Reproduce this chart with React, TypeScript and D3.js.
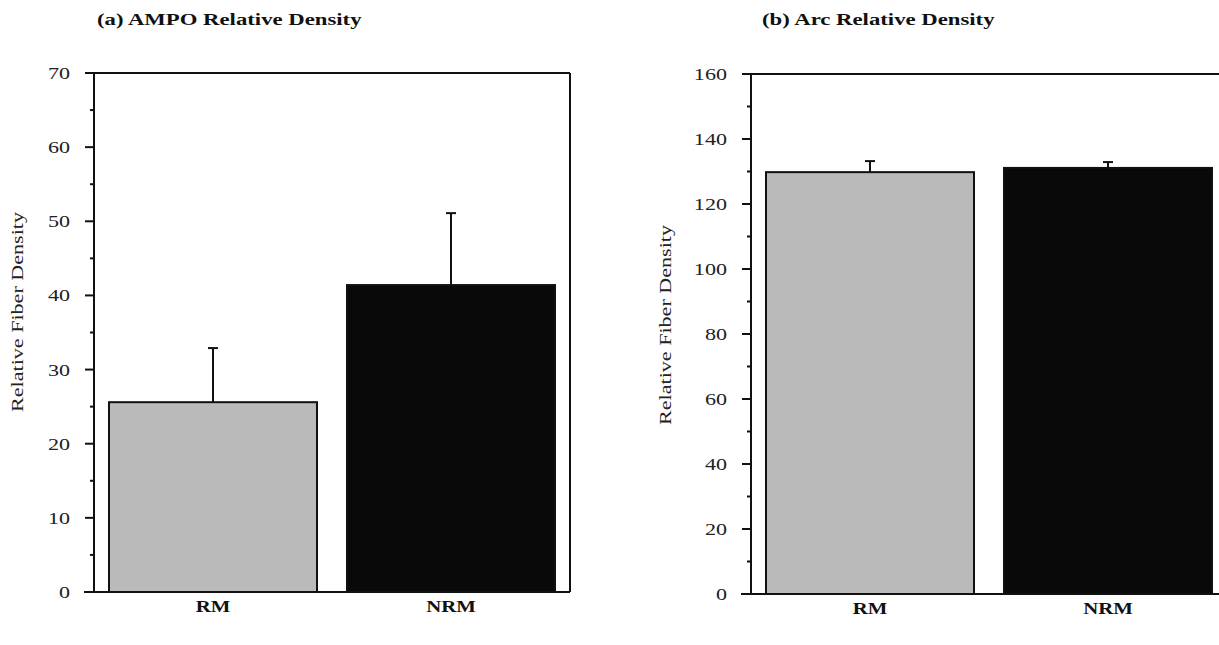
import React from "react";
import * as d3 from "d3";

// Groups and measurements for the two panels
const categories = ["RM", "NRM"];

const ampoMeans = [25.6, 41.4];
const ampoErrors = [7.3, 9.7];
const ampoTicks = [0, 10, 20, 30, 40, 50, 60, 70];

const arcMeans = [129.8, 131.1];
const arcErrors = [3.4, 1.8];
const arcTicks = [0, 20, 40, 60, 80, 100, 120, 140, 160];

const barFills = ["#bababa", "#090909"];

const W = 1219;
const H = 645;
const SERIF = "'Liberation Serif', 'Times New Roman', serif";
// the type is set slightly wide
const WIDE = 1.3;

type LabelProps = {
  x: number;
  y: number;
  rotate?: number;
  anchor?: "start" | "middle" | "end";
  size: number;
  bold?: boolean;
  dy?: string;
  children: React.ReactNode;
};

function Label({ x, y, rotate = 0, anchor = "start", size, bold, dy, children }: LabelProps) {
  return (
    <text
      transform={`translate(${x},${y}) rotate(${rotate}) scale(${WIDE},1)`}
      textAnchor={anchor}
      dy={dy}
      fontFamily={SERIF}
      fontWeight={bold ? "bold" : "normal"}
      fontSize={size}
      fill={bold ? "#111" : "#222"}
    >
      {children}
    </text>
  );
}

type PanelProps = {
  title: string;
  means: number[];
  errors: number[];
  ticks: number[];
  minorStep: number;
  x0: number;
  x1: number;
  yTop: number;
  yBottom: number;
  titleX: number;
  ylabelX: number;
  ylabelY: number;
};

function Panel(p: PanelProps) {
  const max = p.ticks[p.ticks.length - 1];
  const y = d3.scaleLinear().domain([0, max]).range([p.yBottom, p.yTop]);
  const x = d3
    .scaleBand<string>()
    .domain(categories)
    .range([p.x0, p.x1])
    .paddingInner(0.126)
    .paddingOuter(0.063);
  const minors = d3.range(0, max + 0.001, p.minorStep).filter((v) => !p.ticks.includes(v));
  const bw = x.bandwidth();

  return (
    <g>
      <Label x={p.titleX} y={25} size={17.5} bold>
        {p.title}
      </Label>
      <Label x={p.ylabelX} y={p.ylabelY} rotate={-90} anchor="middle" size={17}>
        Relative Fiber Density
      </Label>

      {/* bars */}
      {categories.map((c, i) => (
        <rect
          key={c}
          x={x(c)!}
          y={y(p.means[i])}
          width={bw}
          height={y(0) - y(p.means[i])}
          fill={barFills[i]}
          stroke="#111"
          strokeWidth={2}
        />
      ))}

      {/* upper error bars */}
      {categories.map((c, i) => {
        const cx = x(c)! + bw / 2;
        const top = y(p.means[i] + p.errors[i]);
        return (
          <g key={c + "-err"} stroke="#111" strokeWidth={2}>
            <line x1={cx} x2={cx} y1={y(p.means[i])} y2={top} />
            <line x1={cx - 5} x2={cx + 5} y1={top} y2={top} />
          </g>
        );
      })}

      {/* frame */}
      <g stroke="#111" strokeWidth={2} fill="none">
        <line x1={p.x0} x2={p.x0} y1={p.yTop} y2={p.yBottom} />
        <line x1={p.x0 - 10} x2={p.x1} y1={p.yBottom} y2={p.yBottom} />
        <line x1={p.x0} x2={p.x1} y1={p.yTop} y2={p.yTop} />
        <line x1={p.x1} x2={p.x1} y1={p.yTop} y2={p.yBottom} />
      </g>

      {/* y ticks */}
      {p.ticks.map((t) => (
        <g key={t}>
          <line x1={p.x0 - 9} x2={p.x0} y1={y(t)} y2={y(t)} stroke="#111" strokeWidth={2} />
          <Label x={p.x0 - 24} y={y(t)} dy="0.35em" anchor="end" size={17}>
            {t}
          </Label>
        </g>
      ))}
      {minors.map((t) => (
        <line key={"m" + t} x1={p.x0 - 4} x2={p.x0} y1={y(t)} y2={y(t)} stroke="#111" strokeWidth={2} />
      ))}

      {/* category labels */}
      {categories.map((c) => (
        <Label key={c + "-lab"} x={x(c)! + bw / 2} y={p.yBottom + 20} anchor="middle" size={16} bold>
          {c}
        </Label>
      ))}
    </g>
  );
}

export default function App() {
  return (
    <svg
      width={W}
      height={H}
      style={{ position: "absolute", left: 0, top: 0, background: "#fff" }}
    >
      <rect width={W} height={H} fill="#fff" />
      <Panel
        title="(a) AMPO Relative Density"
        means={ampoMeans}
        errors={ampoErrors}
        ticks={ampoTicks}
        minorStep={5}
        x0={94}
        x1={570}
        yTop={73}
        yBottom={592}
        titleX={97}
        ylabelX={23}
        ylabelY={312}
      />
      <Panel
        title="(b) Arc Relative Density"
        means={arcMeans}
        errors={arcErrors}
        ticks={arcTicks}
        minorStep={10}
        x0={751}
        x1={1227}
        yTop={74}
        yBottom={594}
        titleX={762}
        ylabelX={671}
        ylabelY={325}
      />
    </svg>
  );
}
